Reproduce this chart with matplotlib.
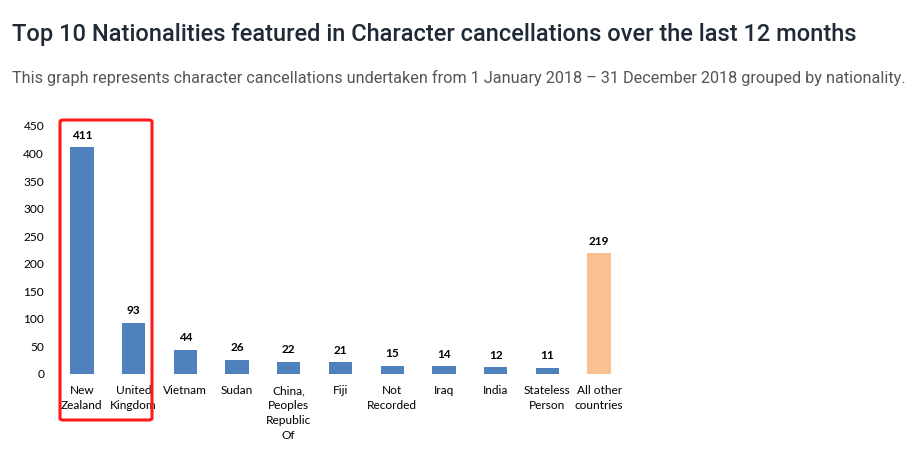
import matplotlib
matplotlib.use("Agg")
import matplotlib.pyplot as plt
from matplotlib.patches import FancyBboxPatch

W, H = 914, 451

countries = ["New\nZealand", "United\nKingdom", "Vietnam", "Sudan",
             "China,\nPeoples\nRepublic\nOf", "Fiji", "Not\nRecorded", "Iraq",
             "India", "Stateless\nPerson", "All other\ncountries"]
counts = [411, 93, 44, 26, 22, 21, 15, 14, 12, 11, 219]
colors = ["#4F81BD"] * 10 + ["#FAC090"]
yticks = [0, 50, 100, 150, 200, 250, 300, 350, 400, 450]

plt.rcParams['font.family'] = ['Lato', 'DejaVu Sans']

fig = plt.figure(figsize=(W / 100, H / 100), dpi=100)
fig.patch.set_facecolor("white")

# axes placed in pixel terms (left, bottom from top)
left, right, top, bottom = 56, 625, 126, 374
ax = fig.add_axes([left / W, 1 - bottom / H, (right - left) / W, (bottom - top) / H])

x = range(len(counts))
ax.bar(x, counts, width=0.45, color=colors, edgecolor="none")
for i, v in zip(x, counts):
    ax.text(i, v + 12, str(v), ha="center", va="bottom", fontsize=8.5,
            fontweight="bold", color="#000000")

ax.set_xlim(-0.5, len(counts) - 0.5)
ax.set_ylim(0, 450)
ax.set_yticks(yticks)
ax.set_xticks(list(x))
ax.set_xticklabels(countries, fontsize=8.6, linespacing=1.45, va="top")
ax.tick_params(axis="both", length=0, labelsize=8.6, colors="#000000")
ax.tick_params(axis="x", pad=8)
ax.tick_params(axis="y", pad=8.5)
for s in ax.spines.values():
    s.set_visible(False)

fig.text(12 / W, 1 - 34 / H, "Top 10 Nationalities featured in Character cancellations over the last 12 months",
         family=["Roboto", "DejaVu Sans"], fontsize=17, fontweight="medium",
         color="#1f2a36", va="center", ha="left")
fig.text(12 / W, 1 - 78 / H,
         "This graph represents character cancellations undertaken from 1 January 2018 \u2013 31 December 2018 grouped by nationality.",
         family=["Roboto", "DejaVu Sans"], fontsize=11.7, fontweight="normal",
         color="#555555", va="center", ha="left")

# red highlight box around first two bars
bx0, by0, bx1, by1 = 60, 120, 152, 420
box = FancyBboxPatch((bx0 / W, 1 - by1 / H), (bx1 - bx0) / W, (by1 - by0) / H,
                     boxstyle="round,pad=0,rounding_size=0.004",
                     transform=fig.transFigure, fill=False,
                     edgecolor="#FF1A1A", linewidth=2.2)
fig.patches.append(box)

fig.savefig("out.png", dpi=100)
